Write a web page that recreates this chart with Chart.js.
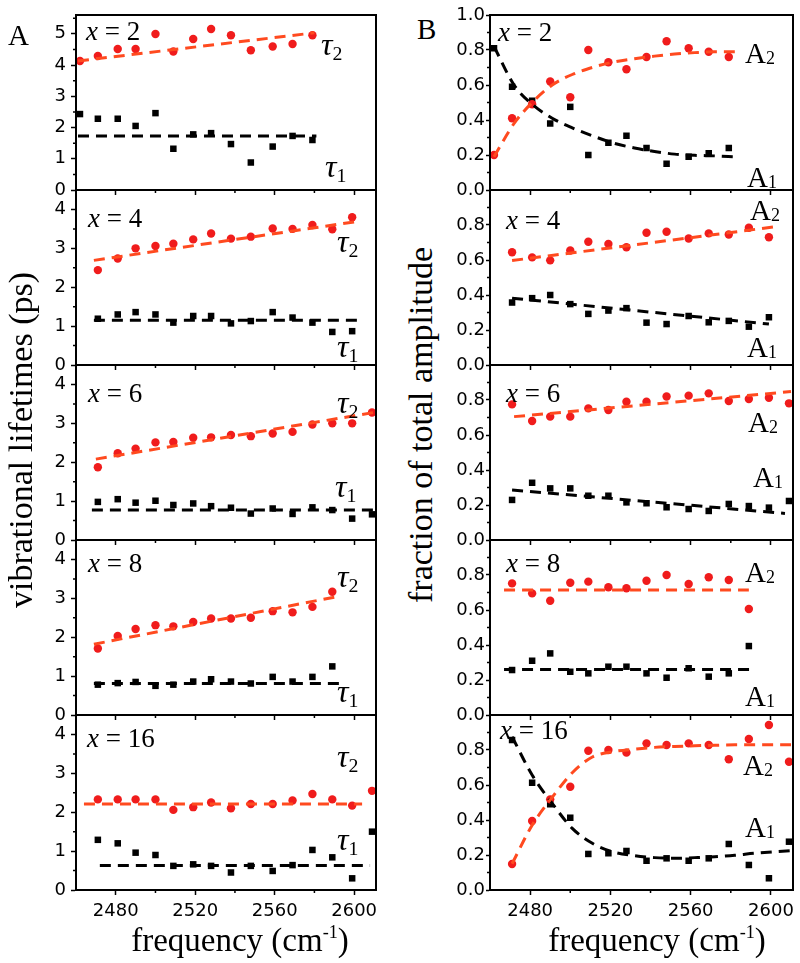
<!DOCTYPE html>
<html>
<head>
<meta charset="utf-8">
<script src="https://cdn.jsdelivr.net/npm/chart.js@4.4.1/dist/chart.umd.min.js"></script>
<style>
  body { margin: 0; background: #fff; width: 800px; height: 963px; position: relative; overflow: hidden; font-family: "Liberation Serif", "Times New Roman", serif; }
  canvas { position: absolute; }
  .t { position: absolute; line-height: 1; white-space: nowrap; color: #000; }
  .t sub { font-size: 0.62em; vertical-align: baseline; position: relative; }
  .t sup { font-size: 0.55em; vertical-align: baseline; position: relative; top: -0.75em; }
</style>
</head>
<body>
<script>
// Frequencies (cm-1) of the measured points, shared by all panels
const freq = [2462, 2471, 2481, 2490, 2500, 2509, 2519, 2528, 2538, 2548, 2559, 2569, 2579, 2589, 2599, 2609];

// A: vibrational lifetimes (ps)
const tau2_x2  = [4.13, 4.29, 4.51, 4.51, 4.99, 4.43, 4.83, 5.15, 4.95, 4.47, 4.59, 4.67, 4.95, null, null, null];
const tau1_x2  = [2.43, 2.28, 2.28, 2.05, 2.46, 1.32, 1.78, 1.82, 1.47, 0.88, 1.39, 1.73, 1.60, null, null, null];
const tau2_x4  = [null, 2.44, 2.74, 3.00, 3.06, 3.12, 3.23, 3.38, 3.25, 3.30, 3.51, 3.50, 3.60, 3.49, 3.80, null];
const tau1_x4  = [null, 1.19, 1.30, 1.36, 1.30, 1.09, 1.26, 1.26, 1.07, 1.13, 1.36, 1.22, 1.09, 0.85, 0.87, null];
const tau2_x6  = [null, 1.87, 2.23, 2.35, 2.51, 2.52, 2.63, 2.64, 2.70, 2.67, 2.74, 2.78, 2.97, 3.00, 3.00, 3.28];
const tau1_x6  = [null, 0.98, 1.05, 0.96, 1.01, 0.90, 0.94, 0.87, 0.83, 0.68, 0.81, 0.67, 0.84, 0.77, 0.55, 0.66];
const tau2_x8  = [null, 1.71, 2.03, 2.21, 2.31, 2.28, 2.39, 2.48, 2.48, 2.50, 2.67, 2.64, 2.78, 3.17, null, null];
const tau1_x8  = [null, 0.78, 0.82, 0.85, 0.75, 0.78, 0.86, 0.92, 0.86, 0.81, 0.98, 0.86, 0.98, 1.25, null, null];
const tau2_x16 = [null, 2.33, 2.33, 2.33, 2.33, 2.06, 2.13, 2.25, 2.10, 2.21, 2.21, 2.30, 2.47, 2.33, 2.17, 2.55];
const tau1_x16 = [null, 1.29, 1.20, 0.96, 0.90, 0.62, 0.66, 0.62, 0.45, 0.62, 0.49, 0.64, 1.03, 0.84, 0.30, 1.50];

// A: fitted lines (end points)
const fitT2_x2 = { f: [2461, 2580], v: [4.13, 5.03] };
const fitT1_x2 = { f: [2461, 2581], v: [1.73, 1.73] };
const fitT2_x4 = { f: [2469, 2600], v: [2.69, 3.68] };
const fitT1_x4 = { f: [2469, 2603], v: [1.15, 1.15] };
const fitT2_x6 = { f: [2470, 2610], v: [2.08, 3.28] };
const fitT1_x6 = { f: [2468, 2610], v: [0.77, 0.77] };
const fitT2_x8 = { f: [2469, 2590], v: [1.82, 3.03] };
const fitT1_x8 = { f: [2469, 2594], v: [0.81, 0.81] };
const fitT2_x16 = { f: [2464, 2604], v: [2.21, 2.21] };
const fitT1_x16 = { f: [2472, 2608], v: [0.63, 0.63] };

// B: fraction of total amplitude
const a2_x2  = [0.20, 0.41, 0.49, 0.62, 0.53, 0.80, 0.73, 0.69, 0.76, 0.85, 0.81, 0.79, 0.76, null, null, null];
const a1_x2  = [0.81, 0.59, 0.51, 0.38, 0.475, 0.20, 0.27, 0.31, 0.24, 0.15, 0.19, 0.21, 0.24, null, null, null];
const a2_x4  = [null, 0.644, 0.615, 0.598, 0.654, 0.704, 0.692, 0.673, 0.756, 0.761, 0.723, 0.752, 0.746, 0.784, 0.73, null];
const a1_x4  = [null, 0.357, 0.382, 0.40, 0.348, 0.292, 0.311, 0.325, 0.242, 0.234, 0.28, 0.244, 0.252, 0.219, 0.273, null];
const a2_x6  = [null, 0.775, 0.68, 0.705, 0.705, 0.752, 0.743, 0.79, 0.79, 0.82, 0.825, 0.838, 0.794, 0.806, 0.813, 0.781];
const a1_x6  = [null, 0.229, 0.327, 0.295, 0.295, 0.253, 0.253, 0.215, 0.21, 0.187, 0.177, 0.166, 0.206, 0.194, 0.185, 0.223];
const a2_x8  = [null, 0.752, 0.695, 0.653, 0.756, 0.762, 0.73, 0.724, 0.767, 0.80, 0.749, 0.787, 0.771, 0.606, null, null];
const a1_x8  = [null, 0.257, 0.31, 0.352, 0.247, 0.238, 0.276, 0.276, 0.238, 0.213, 0.267, 0.219, 0.238, 0.394, null, null];
const a2_x16 = [null, 0.149, 0.394, 0.518, 0.59, 0.796, 0.80, 0.785, 0.838, 0.829, 0.838, 0.829, 0.747, 0.863, 0.943, 0.733];
const a1_x16 = [null, 0.857, 0.613, 0.49, 0.413, 0.206, 0.21, 0.223, 0.167, 0.181, 0.167, 0.181, 0.263, 0.143, 0.067, 0.276];

// B: fitted curves / lines
const fitA2_x2 = { f: [2462, 2472, 2481, 2491, 2501, 2511, 2521, 2532, 2542, 2552, 2562, 2572, 2582], v: [0.19, 0.38, 0.50, 0.60, 0.66, 0.70, 0.73, 0.75, 0.765, 0.777, 0.785, 0.79, 0.79] };
const fitA1_x2 = { f: [2462, 2472, 2481, 2491, 2501, 2511, 2521, 2532, 2542, 2552, 2562, 2572, 2582], v: [0.82, 0.60, 0.49, 0.41, 0.355, 0.31, 0.27, 0.24, 0.22, 0.205, 0.198, 0.195, 0.19] };
const fitA2_x4 = { f: [2471, 2601], v: [0.597, 0.788] };
const fitA1_x4 = { f: [2471, 2599], v: [0.382, 0.234] };
const fitA2_x6 = { f: [2472, 2610], v: [0.705, 0.848] };
const fitA1_x6 = { f: [2471, 2607], v: [0.286, 0.152] };
const fitA2_x8 = { f: [2467, 2589], v: [0.715, 0.715] };
const fitA1_x8 = { f: [2467, 2592], v: [0.26, 0.26] };
const fitA2_x16 = { f: [2471, 2481, 2491, 2501, 2511, 2521, 2532, 2542, 2552, 2562, 2572, 2582, 2592, 2610], v: [0.15, 0.37, 0.53, 0.67, 0.76, 0.79, 0.805, 0.815, 0.82, 0.824, 0.827, 0.83, 0.83, 0.83] };
const fitA1_x16 = { f: [2471, 2481, 2491, 2501, 2511, 2521, 2532, 2542, 2552, 2562, 2572, 2582, 2592, 2610], v: [0.876, 0.657, 0.495, 0.352, 0.267, 0.219, 0.196, 0.185, 0.181, 0.185, 0.19, 0.198, 0.21, 0.225] };

// ticks
const xMajor = [2480, 2520, 2560, 2600];
const xMinor = [2500, 2540, 2580];
const yMajA1 = [0, 1, 2, 3, 4, 5], yMinA1 = [0.5, 1.5, 2.5, 3.5, 4.5, 5.5];
const yMajA = [0, 1, 2, 3, 4], yMinA = [0.5, 1.5, 2.5, 3.5];
const yMajB1 = [0, 0.2, 0.4, 0.6, 0.8, 1.0], yMajB = [0, 0.2, 0.4, 0.6, 0.8];
const yMinB = [0.1, 0.3, 0.5, 0.7, 0.9];

const RED = "#f01c1c", RED_FIT = "#ff4a1f", BLK = "#000";
const TICK_FONT = { family: "DejaVu Sans", size: 18 };
const ROWS = [15, 190, 365, 540, 715];

// cadre complet + petites graduations
const frame = {
  id: "frame",
  afterDraw(chart, args, o) {
    const { ctx, chartArea: a, scales } = chart;
    ctx.save();
    ctx.strokeStyle = "#000";
    ctx.lineWidth = 2;
    ctx.strokeRect(a.left, a.top, a.right - a.left, a.bottom - a.top);
    ctx.lineWidth = 1.5;
    ctx.beginPath();
    (o.minorY || []).forEach((v) => { const y = scales.y.getPixelForValue(v); ctx.moveTo(a.left - 3, y); ctx.lineTo(a.left, y); });
    (o.minorX || []).forEach((v) => { const x = scales.x.getPixelForValue(v); ctx.moveTo(x, a.bottom); ctx.lineTo(x, a.bottom + 3); });
    ctx.stroke();
    ctx.restore();
  },
};

const pts = (vals) => vals.map((v, i) => (v == null ? null : { x: freq[i], y: v })).filter(Boolean);
const fit = (o) => o.f.map((x, i) => ({ x, y: o.v[i] }));

function lineDs(o, color, curve) {
  return { data: fit(o), showLine: true, pointRadius: 0, borderColor: color, borderWidth: 3, borderDash: [11, 7], cubicInterpolationMode: curve ? "monotone" : "default", clip: false };
}
function dotDs(vals, color, style) {
  return { data: pts(vals), showLine: false, pointStyle: style, pointRadius: style === "rect" ? 4.6 : 4.2, pointBackgroundColor: color, pointBorderColor: color, pointBorderWidth: 0, clip: false };
}

function panel(col, row, datasets, yMax, yMaj, yMin, fmt) {
  const last = row === 4;
  const pl = col === 0 ? 76 : 490, pr = col === 0 ? 376 : 793;
  // marges larges : la zone de tracé tombe toujours pile sur les bords voulus
  const yw = 50, padT = 25, padR = 14, bottomH = last ? 40 : 25;
  const w = yw + (pr - pl) + padR, h = padT + 175 + bottomH;
  const cv = document.createElement("canvas");
  cv.width = w; cv.height = h;
  cv.style.left = pl - yw + "px"; cv.style.top = ROWS[row] - padT + "px";
  cv.style.width = w + "px"; cv.style.height = h + "px";
  document.body.appendChild(cv);
  new Chart(cv, {
    type: "scatter",
    data: { datasets },
    options: {
      responsive: false, animation: false,
      layout: { padding: { top: padT, right: padR, left: 0, bottom: 0 } },
      plugins: { legend: { display: false }, tooltip: { enabled: false }, frame: { minorX: xMinor, minorY: yMin } },
      scales: {
        x: {
          type: "linear", min: 2460, max: 2611,
          afterFit: (s) => { s.height = bottomH; },
          afterBuildTicks: (s) => { s.ticks = xMajor.map((v) => ({ value: v })); },
          grid: { drawOnChartArea: false, tickLength: 5, tickWidth: 1.5, tickColor: "#000" },
          border: { color: "#000", width: 2 },
          ticks: { display: last, font: TICK_FONT, color: "#000", padding: 6, maxRotation: 0, autoSkip: false, callback: (v) => String(v) },
        },
        y: {
          type: "linear", min: 0, max: yMax,
          afterFit: (s) => { s.width = yw; },
          afterBuildTicks: (s) => { s.ticks = yMaj.map((v) => ({ value: v })); },
          grid: { drawOnChartArea: false, tickLength: col === 0 ? 5 : 4, tickWidth: 1.5, tickColor: "#000" },
          border: { color: "#000", width: 2 },
          ticks: { font: TICK_FONT, color: "#000", padding: col === 0 ? 5 : 1, autoSkip: false, callback: fmt },
        },
      },
    },
    plugins: [frame],
  });
}

const fA = (v) => String(v);
const fB = (v) => v.toFixed(1);

panel(0, 0, [lineDs(fitT2_x2, RED_FIT), lineDs(fitT1_x2, BLK), dotDs(tau2_x2, RED, "circle"), dotDs(tau1_x2, BLK, "rect")], 5.6, yMajA1, yMinA1, fA);
panel(0, 1, [lineDs(fitT2_x4, RED_FIT), lineDs(fitT1_x4, BLK), dotDs(tau2_x4, RED, "circle"), dotDs(tau1_x4, BLK, "rect")], 4.5, yMajA, yMinA, fA);
panel(0, 2, [lineDs(fitT2_x6, RED_FIT), lineDs(fitT1_x6, BLK), dotDs(tau2_x6, RED, "circle"), dotDs(tau1_x6, BLK, "rect")], 4.5, yMajA, yMinA, fA);
panel(0, 3, [lineDs(fitT2_x8, RED_FIT), lineDs(fitT1_x8, BLK), dotDs(tau2_x8, RED, "circle"), dotDs(tau1_x8, BLK, "rect")], 4.5, yMajA, yMinA, fA);
panel(0, 4, [lineDs(fitT2_x16, RED_FIT), lineDs(fitT1_x16, BLK), dotDs(tau2_x16, RED, "circle"), dotDs(tau1_x16, BLK, "rect")], 4.5, yMajA, yMinA, fA);

panel(1, 0, [lineDs(fitA2_x2, RED_FIT, true), lineDs(fitA1_x2, BLK, true), dotDs(a2_x2, RED, "circle"), dotDs(a1_x2, BLK, "rect")], 1.0, yMajB1, yMinB, fB);
panel(1, 1, [lineDs(fitA2_x4, RED_FIT), lineDs(fitA1_x4, BLK), dotDs(a2_x4, RED, "circle"), dotDs(a1_x4, BLK, "rect")], 1.0, yMajB, yMinB, fB);
panel(1, 2, [lineDs(fitA2_x6, RED_FIT), lineDs(fitA1_x6, BLK), dotDs(a2_x6, RED, "circle"), dotDs(a1_x6, BLK, "rect")], 1.0, yMajB, yMinB, fB);
panel(1, 3, [lineDs(fitA2_x8, RED_FIT), lineDs(fitA1_x8, BLK), dotDs(a2_x8, RED, "circle"), dotDs(a1_x8, BLK, "rect")], 1.0, yMajB, yMinB, fB);
panel(1, 4, [lineDs(fitA2_x16, RED_FIT, true), lineDs(fitA1_x16, BLK, true), dotDs(a2_x16, RED, "circle"), dotDs(a1_x16, BLK, "rect")], 1.0, yMajB, yMinB, fB);

// textes (x, ligne de base, taille)
function lab(html, x, base, size, extra) {
  const d = document.createElement("div");
  d.className = "t";
  d.innerHTML = html;
  d.style.left = x + "px";
  d.style.top = base - 0.84 * size + "px";
  d.style.fontSize = size + "px";
  if (extra) Object.assign(d.style, extra);
  document.body.appendChild(d);
}

lab("A", 8, 45, 29);
lab("B", 417, 39, 29);

const xl = (n) => "<i>x</i> = " + n;
[[86, 41, 2], [88, 228, 4], [88, 403, 6], [88, 573, 8], [87, 748, 16]].forEach(([x, b, n]) => lab(xl(n), x, b, 27));
[[498, 42, 2], [506, 230, 4], [506, 403, 6], [506, 573, 8], [500, 740, 16]].forEach(([x, b, n]) => lab(xl(n), x, b, 27));

const tau = (n) => '<i>τ</i><sub style="top:0.25em">' + n + "</sub>";
[[321, 55, 2], [325, 177, 1], [337, 252, 2], [337, 357, 1], [337, 413, 2], [335, 497, 1], [337, 587, 2], [337, 702, 1], [337, 767, 2], [337, 850, 1]]
  .forEach(([x, b, n]) => lab(tau(n), x, b, 32));

const amp = (n) => 'A<sub style="top:0.08em">' + n + "</sub>";
[[745, 63, 2], [747, 187, 1], [750, 220, 2], [747, 357, 1], [748, 432, 2], [753, 487, 1], [745, 582, 2], [745, 706, 1], [743, 775, 2], [745, 837, 1]]
  .forEach(([x, b, n]) => lab(amp(n), x, b, 29));

// titres d'axes
const xt = "frequency (cm<sup>-1</sup>)";
lab(xt, 240, 952, 33, { transform: "translateX(-50%)" });
lab(xt, 657, 952, 33, { transform: "translateX(-50%)" });

function vt(text, cx, cy, size) {
  const d = document.createElement("div");
  d.className = "t";
  d.textContent = text;
  d.style.fontSize = size + "px";
  d.style.left = cx + "px";
  d.style.top = cy + "px";
  d.style.transform = "translate(-50%, -50%) rotate(-90deg)";
  document.body.appendChild(d);
}
vt("vibrational lifetimes (ps)", 21, 440, 34);
vt("fraction of total amplitude", 421, 425, 34);
</script>
</body>
</html>
